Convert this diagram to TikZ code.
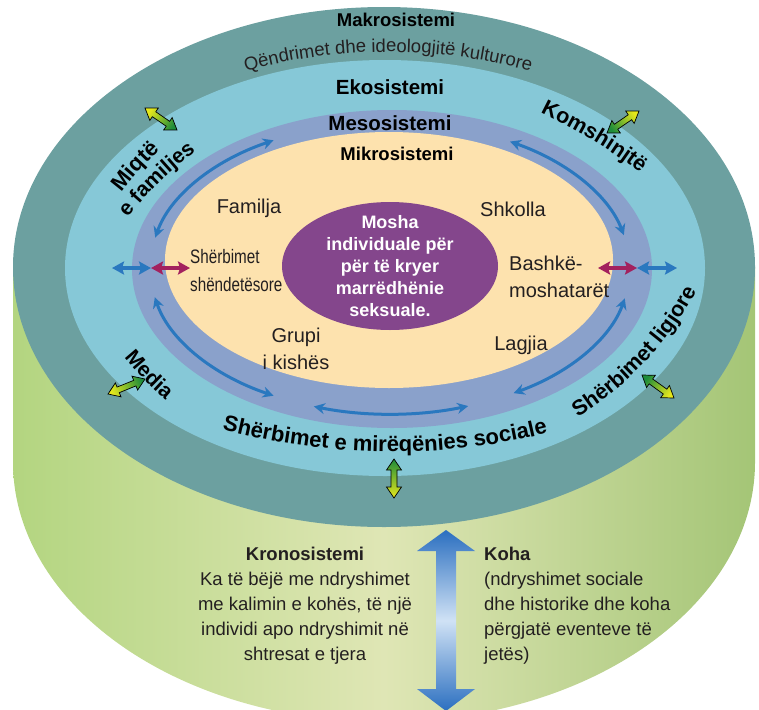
\documentclass[tikz,border=0pt]{standalone}
\usepackage{fontspec}
\setmainfont{Liberation Sans}
\newfontfamily\narrowfont[FakeStretch=0.78]{Liberation Sans}
\usetikzlibrary{arrows.meta,calc,decorations.text}

\definecolor{makroteal}{HTML}{6CA0A0}
\definecolor{ekoblue}{HTML}{86C8D7}
\definecolor{mesoblue}{HTML}{8AA1CB}
\definecolor{mikropeach}{HTML}{FDE2AE}
\definecolor{moshapurple}{HTML}{84468C}
\definecolor{kronoleft}{HTML}{B3D580}
\definecolor{kronomid}{HTML}{DFE6B5}
\definecolor{kronoright}{HTML}{A4C576}
\definecolor{linkblue}{HTML}{2A78BF}
\definecolor{linkred}{HTML}{A3215E}
\definecolor{timeblue}{HTML}{2B6FC0}
\definecolor{timelight}{HTML}{D0E2F5}
\definecolor{swapyellow}{HTML}{E6E81C}
\definecolor{swapgreen}{HTML}{1E8C3A}
\definecolor{inktext}{HTML}{231F20}

\newcommand{\fsz}[2]{\fontsize{#1}{#2}\selectfont}

% double block arrow: yellow end #1, green end #2, shading angle #3
\newcommand{\swaparrow}[3]{%
  \shade[draw=black, line width=0.7pt, line join=miter, bottom color=swapyellow, top color=swapgreen, shading angle=#3]
    (#1) -- ($(#1)!11pt!(#2)!7.5pt!90:(#2)$) -- ($(#1)!11pt!(#2)!3pt!90:(#2)$)
    -- ($(#2)!11pt!(#1)!3pt!-90:(#1)$) -- ($(#2)!11pt!(#1)!7.5pt!-90:(#1)$) -- (#2)
    -- ($(#2)!11pt!(#1)!7.5pt!90:(#1)$) -- ($(#2)!11pt!(#1)!3pt!90:(#1)$)
    -- ($(#1)!11pt!(#2)!3pt!-90:(#2)$) -- ($(#1)!11pt!(#2)!7.5pt!-90:(#2)$) -- cycle;}

\begin{document}
\begin{tikzpicture}[x=1pt, y=1pt, line join=round,
  systitle/.style={font=\bfseries\fsz{#1}{#1}, text=black, inner sep=0pt},
  placetext/.style={font=\fsz{20}{27}, text=inktext, inner sep=0pt},
  ringtext/.style={decorate, decoration={text along path, text align=center,
    text={|\bfseries\fsz{#1}{#1}|\ringlabel}}},
  arcarrow/.style={draw=linkblue, line width=3pt, {Stealth[length=11pt,width=11pt]}-{Stealth[length=11pt,width=11pt]}},
  flatarrow/.style={line width=4pt, {Stealth[length=12pt,width=13pt,inset=2pt]}-{Stealth[length=12pt,width=13pt,inset=2pt]}}]
\useasboundingbox (0,0) rectangle (759,-709);
\clip (0,0) rectangle (759,-709);

% cylinder body and rings
\shade[left color=kronoleft, right color=kronoright, middle color=kronomid]
  (13,-267) -- (13,-462) arc[start angle=180, end angle=360, x radius=371, y radius=260] -- (755,-267) -- cycle;
\fill[makroteal] (384,-267) ellipse[x radius=371, y radius=260];
\fill[ekoblue] (385,-268) ellipse[x radius=320, y radius=208];
\fill[mesoblue] (392,-269) ellipse[x radius=260, y radius=159];
\fill[mikropeach] (389,-260) ellipse[x radius=224, y radius=128];
\fill[moshapurple] (390,-266) ellipse[x radius=108, y radius=64];

% titles
\node[systitle=18.5] (makro) at (396,-20) {Makrosistemi};
\node[systitle=20.5] (eko) at (390,-87) {Ekosistemi};
\node[systitle=20.5] (meso) at (390,-123) {Mesosistemi};
\node[systitle=18.5] (mikro) at (397,-154) {Mikrosistemi};

% curved labels
\path[decorate, decoration={text along path, text align=center,
  text={|\color{inktext}\fsz{18.5}{18.5}|Qëndrimet dhe ideologjitë kulturore}}]
  (388,-268) ++(120:345 and 216) arc[start angle=120, end angle=60, x radius=345, y radius=216];
\def\ringlabel{Miqtë}
\path[ringtext=22] (109,-207) -- (119,-196) .. controls (132,-178) and (147,-162) .. (163,-147) -- (173,-136);
\def\ringlabel{e familjes}
\path[ringtext=21] (117,-228) -- (128,-217) .. controls (148,-192) and (170.5,-170) .. (196,-151) -- (207,-141);
\def\ringlabel{Komshinjtë}
\path[ringtext=21.5] (523,-104) -- (541,-113) .. controls (575,-130) and (610,-149) .. (640,-173) -- (656,-185);
\def\ringlabel{Media}
\path[ringtext=21] (113.5,-346.4) -- (124,-357) .. controls (136.6,-372.7) and (150.6,-387) .. (166,-400) -- (176.5,-410.7);
\def\ringlabel{Shërbimet ligjore}
\path[ringtext=21.5] (560,-428.6) -- (577,-418) .. controls (628,-386) and (669,-343) .. (697,-290) -- (706,-272);
\def\ringlabel{Shërbimet e mirëqënies sociale}
\path[ringtext=22] (203.6,-425) -- (223,-430) .. controls (329,-457) and (441,-460) .. (547,-433) -- (566.4,-428);

% mesosystem links
\draw[arcarrow] (390,-268) ++(168:240 and 146) arc[start angle=168, end angle=119, x radius=240, y radius=146];
\draw[arcarrow] (390,-268) ++(60:240 and 146) arc[start angle=60, end angle=13, x radius=240, y radius=146];
\draw[arcarrow] (390,-268) ++(191.5:240 and 146) arc[start angle=191.5, end angle=241, x radius=240, y radius=146];
\draw[arcarrow] (390,-268) ++(251.5:240 and 146) arc[start angle=251.5, end angle=289, x radius=240, y radius=146];
\draw[arcarrow] (390,-268) ++(301:240 and 146) arc[start angle=301, end angle=348, x radius=240, y radius=146];

\coordinate (healthL) at (112,-268);
\coordinate (healthM) at (151,-268);
\coordinate (healthR) at (190,-268);
\coordinate (peerL) at (598,-268);
\coordinate (peerM) at (637,-268);
\coordinate (peerR) at (677,-268);
\draw[flatarrow, linkblue] (healthL) -- (healthM);
\draw[flatarrow, linkred] (healthM) -- (healthR);
\draw[flatarrow, linkred] (peerL) -- (peerM);
\draw[flatarrow, linkblue] (peerM) -- (peerR);

% microsystem
\node[placetext] (familja) at (249,-208) {Familja};
\node[placetext] (shkolla) at (513,-209) {Shkolla};
\node[placetext, font=\narrowfont\fsz{19.5}{28}, anchor=west, align=left] (sherbimet) at (190,-271) {Shërbimet\\shëndetësore};
\node[placetext, anchor=west, align=left] (bashke) at (509,-276.5) {Bashkë-\\moshatarët};
\node[placetext, align=center] (grupi) at (296,-348.5) {Grupi\\i kishës};
\node[placetext] (lagjia) at (521,-345) {Lagjia};
\node[font=\bfseries\fsz{18}{22}, text=white, align=center, inner sep=0pt] (mosha) at (390,-266)
  {Mosha\\individuale për\\për të kryer\\marrëdhënie\\seksuale.};

% exchange arrows
\coordinate (ulY) at (145,-108); \coordinate (ulG) at (177,-130);
\coordinate (urY) at (639,-111); \coordinate (urG) at (607,-133);
\coordinate (llY) at (108,-394); \coordinate (llG) at (145,-379);
\coordinate (lrY) at (674,-398); \coordinate (lrG) at (642,-375);
\coordinate (btY) at (394,-498); \coordinate (btG) at (394,-459);
\swaparrow{ulY}{ulG}{-124.5}
\swaparrow{urY}{urG}{124.5}
\swaparrow{llY}{llG}{-68}
\swaparrow{lrY}{lrG}{54}
\swaparrow{btY}{btG}{0}

% time arrow
\shade[top color=timeblue, bottom color=timeblue, middle color=timelight]
  (446,-530) -- (475,-551) -- (456,-551) -- (456,-689) -- (475,-689) -- (446,-711)
  -- (417,-689) -- (436,-689) -- (436,-551) -- (417,-551) -- cycle;

% chronosystem
\node[placetext, font=\fsz{18.5}{25}, align=center] (krono) at (305,-606)
  {\textbf{Kronosistemi}\\Ka të bëjë me ndryshimet\\me kalimin e kohës, të një\\individi apo ndryshimit në\\shtresat e tjera};
\node[placetext, font=\fsz{18.5}{25}, anchor=west, align=left] (koha) at (484,-606)
  {\textbf{Koha}\\(ndryshimet sociale\\dhe historike dhe koha\\përgjatë eventeve të\\jetës)};
\end{tikzpicture}
\end{document}
